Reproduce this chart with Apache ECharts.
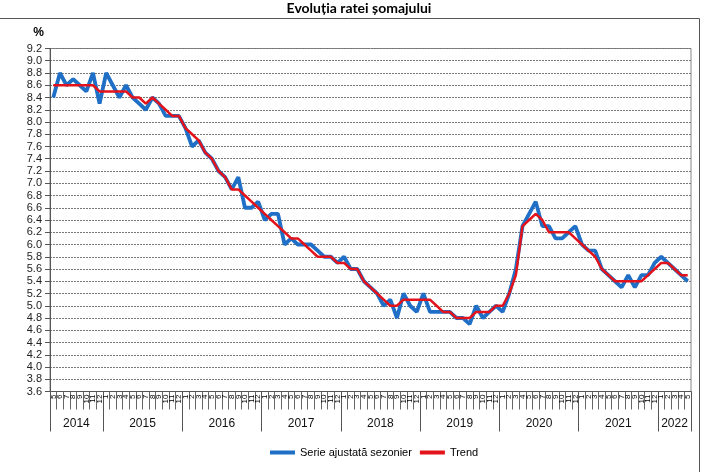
<!DOCTYPE html>
<html>
<head>
<meta charset="utf-8">
<script src="https://cdn.jsdelivr.net/npm/echarts@6/dist/echarts.min.js"></script>
<style>html,body{margin:0;padding:0;background:#fff}#c{width:718px;height:472px}</style>
</head>
<body>
<div id="c"></div>
<script>
// Months: May 2014 .. May 2022
const months = [5,6,7,8,9,10,11,12,
  1,2,3,4,5,6,7,8,9,10,11,12,
  1,2,3,4,5,6,7,8,9,10,11,12,
  1,2,3,4,5,6,7,8,9,10,11,12,
  1,2,3,4,5,6,7,8,9,10,11,12,
  1,2,3,4,5,6,7,8,9,10,11,12,
  1,2,3,4,5,6,7,8,9,10,11,12,
  1,2,3,4,5,6,7,8,9,10,11,12,
  1,2,3,4,5];
const years = ['2014','2015','2016','2017','2018','2019','2020','2021','2022'];
const yearMonthCounts = [8,12,12,12,12,12,12,12,5];

const seasonal = [8.4,8.8,8.6,8.7,8.6,8.5,8.8,8.3,
  8.8,8.6,8.4,8.6,8.4,8.3,8.2,8.4,8.3,8.1,8.1,8.1,
  7.9,7.6,7.7,7.5,7.4,7.2,7.1,6.9,7.1,6.6,6.6,6.7,
  6.4,6.5,6.5,6.0,6.1,6.0,6.0,6.0,5.9,5.8,5.8,5.7,
  5.8,5.6,5.6,5.4,5.3,5.2,5.0,5.1,4.8,5.2,5.0,4.9,
  5.2,4.9,4.9,4.9,4.9,4.8,4.8,4.7,5.0,4.8,4.9,5.0,
  4.9,5.2,5.6,6.3,6.5,6.7,6.3,6.3,6.1,6.1,6.2,6.3,
  6.0,5.9,5.9,5.6,5.5,5.4,5.3,5.5,5.3,5.5,5.5,5.7,
  5.8,5.7,5.6,5.5,5.4];
const trend = [8.6,8.6,8.6,8.6,8.6,8.6,8.6,8.5,
  8.5,8.5,8.5,8.5,8.4,8.4,8.3,8.4,8.3,8.2,8.1,8.1,
  7.9,7.8,7.7,7.5,7.4,7.2,7.1,6.9,6.9,6.8,6.7,6.6,
  6.5,6.4,6.3,6.2,6.1,6.1,6.0,5.9,5.8,5.8,5.8,5.7,
  5.7,5.6,5.6,5.4,5.3,5.2,5.1,5.0,5.0,5.1,5.1,5.1,
  5.1,5.1,5.0,4.9,4.9,4.8,4.8,4.8,4.9,4.9,4.9,5.0,
  5.0,5.2,5.5,6.3,6.4,6.5,6.4,6.2,6.2,6.2,6.2,6.1,
  6.0,5.9,5.8,5.6,5.5,5.4,5.4,5.4,5.4,5.4,5.5,5.6,
  5.7,5.7,5.6,5.5,5.5];

// year boundaries and centers (in month units)
const yearEdges = [0];
yearMonthCounts.forEach(n => yearEdges.push(yearEdges[yearEdges.length-1] + n));
const yearCenters = yearMonthCounts.map((n, i) => yearEdges[i] + n / 2);
const total = months.length;

const chart = echarts.init(document.getElementById('c'), null, {renderer: 'canvas'});
chart.setOption({
  animation: false,
  backgroundColor: '#fff',
  title: {
    text: 'Evoluția ratei șomajului',
    left: 'center', top: 0, padding: [1, 5],
    textStyle: {fontFamily: 'Lato', fontWeight: 'bold', fontSize: 14, color: '#000'}
  },
  graphic: [
    {type: 'line', shape: {x1: 0, y1: 18.5, x2: 699.5, y2: 18.5}, style: {stroke: '#555', lineWidth: 1}},
    {type: 'line', shape: {x1: 699.5, y1: 18.5, x2: 699.5, y2: 472}, style: {stroke: '#555', lineWidth: 1}}
  ],
  legend: {
    left: 265, top: 442,
    icon: 'rect', itemWidth: 25, itemHeight: 4, itemGap: 8,
    textStyle: {fontFamily: 'Liberation Sans', fontSize: 11, color: '#000'},
    data: ['Serie ajustată sezonier', 'Trend']
  },
  grid: {left: 50, right: 27, top: 48.5, bottom: 80.5, show: true, borderColor: '#888', borderWidth: 1},
  xAxis: [
    {
      type: 'category', data: months, boundaryGap: true,
      axisLine: {lineStyle: {color: '#555', width: 1}},
      axisTick: {show: true, length: 18, interval: 0, lineStyle: {color: '#666'}},
      axisLabel: {interval: 0, rotate: 90, fontSize: 8, margin: 3, color: '#000', fontFamily: 'Liberation Sans'},
      splitLine: {show: false}
    },
    {
      type: 'value', min: 0, max: total, position: 'bottom', offset: 0,
      axisLine: {show: false},
      axisTick: {show: true, customValues: yearEdges, length: 40, lineStyle: {color: '#555'}},
      axisLabel: {
        customValues: yearCenters, margin: 26, fontSize: 12, color: '#111', fontFamily: 'Liberation Sans',
        formatter: v => { const i = yearCenters.findIndex(c => Math.abs(c - v) < 1e-6); return i >= 0 ? years[i] : ''; }
      },
      splitLine: {show: false}
    }
  ],
  yAxis: {
    type: 'value', min: 3.6, max: 9.2, interval: 0.2,
    name: '%', nameLocation: 'end', nameGap: 10,
    nameTextStyle: {fontFamily: 'Liberation Sans', fontWeight: 'bold', fontSize: 12, color: '#000', align: 'right', padding: [0, 6, 0, 0]},
    axisLine: {show: true, lineStyle: {color: '#555'}},
    axisTick: {show: true, length: 5, lineStyle: {color: '#555'}},
    axisLabel: {fontSize: 11, color: '#222', margin: 8, fontFamily: 'Liberation Sans', formatter: v => v.toFixed(1)},
    splitLine: {show: true, lineStyle: {color: '#777', type: [2, 1], width: 1}}
  },
  series: [
    {
      name: 'Serie ajustată sezonier', type: 'line', data: seasonal, symbol: 'none',
      lineStyle: {color: '#1f6fc6', width: 3.8}, itemStyle: {color: '#1f6fc6'}
    },
    {
      name: 'Trend', type: 'line', data: trend, symbol: 'none',
      lineStyle: {color: '#e3121b', width: 2.5}, itemStyle: {color: '#e3121b'}
    }
  ]
});
</script>
</body>
</html>
